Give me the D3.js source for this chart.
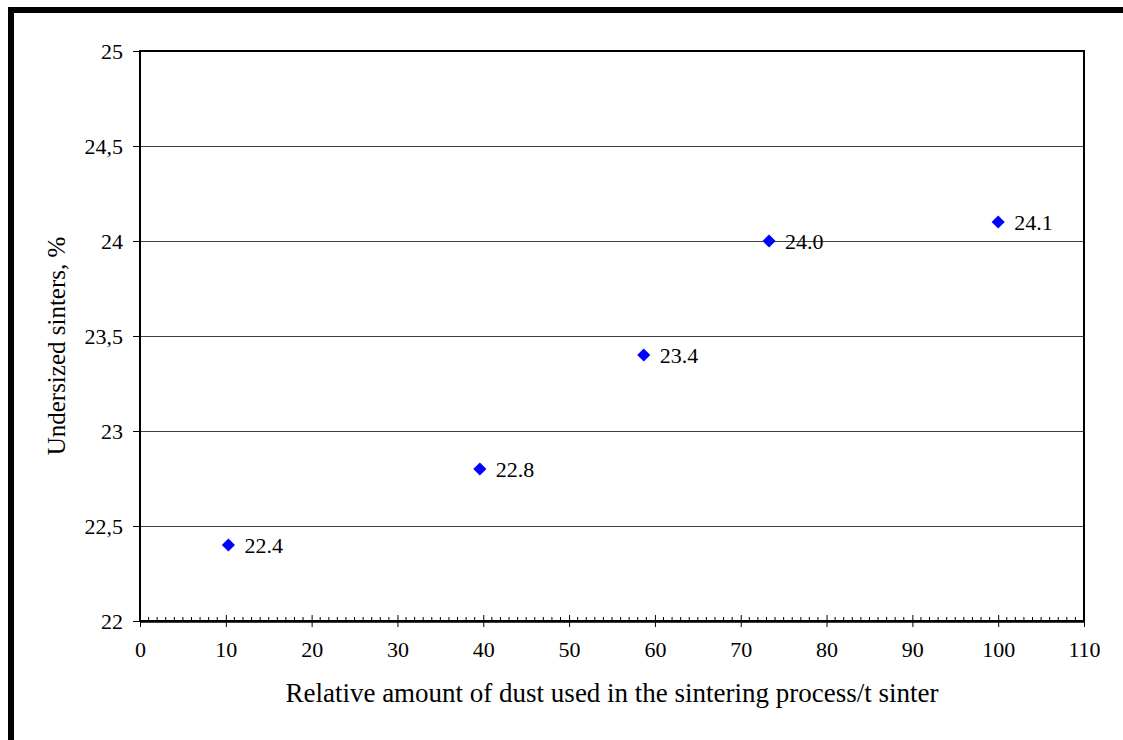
<!DOCTYPE html>
<html>
<head>
<meta charset="utf-8">
<script src="https://cdn.jsdelivr.net/npm/d3@7"></script>
<style>
  html, body { margin: 0; padding: 0; background: #fff; }
  svg { display: block; }
  svg text { font-family: "Liberation Serif", "Times New Roman", serif !important; fill: #000; }
</style>
</head>
<body>
<svg id="chart" width="1123" height="740"></svg>
<script>
// Relative dust amount vs. undersized sinter share
const dustAmount = [10.3, 39.6, 58.7, 73.3, 100];
const undersized = [22.4, 22.8, 23.4, 24.0, 24.1];
const pointLabels = ["22.4", "22.8", "23.4", "24.0", "24.1"];
const xTicks = [0, 10, 20, 30, 40, 50, 60, 70, 80, 90, 100, 110];
const yTicks = [22, 22.5, 23, 23.5, 24, 24.5, 25];
const yTickLabels = ["22", "22,5", "23", "23,5", "24", "24,5", "25"];
const xTitle = "Relative amount of dust used in the sintering process/t sinter";
const yTitle = "Undersized sinters, %";

const serif = '"Liberation Serif", "Times New Roman", serif';
const svg = d3.select("#chart");
const plot = { left: 140, top: 51, right: 1084, bottom: 621 };

const x = d3.scaleLinear().domain([0, 110]).range([plot.left, plot.right]);
const y = d3.scaleLinear().domain([22, 25]).range([plot.bottom, plot.top]);

// outer frame (open at the bottom/right, as the page crops it)
svg.append("path")
  .attr("d", `M11,740 L11,10 L1123,10`)
  .attr("fill", "none").attr("stroke", "#000").attr("stroke-width", 6);

// horizontal gridlines
svg.append("g").selectAll("line")
  .data(yTicks.slice(1, -1))
  .join("line")
  .attr("x1", plot.left).attr("x2", plot.right)
  .attr("y1", d => Math.round(y(d)) + 0.5).attr("y2", d => Math.round(y(d)) + 0.5)
  .attr("stroke", "#404040").attr("stroke-width", 1);

// plot area border
svg.append("rect")
  .attr("x", plot.left).attr("y", plot.top)
  .attr("width", plot.right - plot.left).attr("height", plot.bottom - plot.top)
  .attr("fill", "none").attr("stroke", "#000").attr("stroke-width", 2);

// y axis
const yAxis = d3.axisLeft(y)
  .tickValues(yTicks)
  .tickFormat((d, i) => yTickLabels[i])
  .tickSize(7).tickPadding(10);
const gy = svg.append("g").attr("transform", `translate(${plot.left},0)`).call(yAxis)
  .attr("font-family", serif).attr("font-size", 22);
gy.select(".domain").remove();
gy.selectAll(".tick line").attr("stroke", "#000").attr("stroke-width", 1);

// x axis minor ticks (every unit, pointing inside)
const minor = d3.range(0, 111, 1).filter(v => v % 10 !== 0);
svg.append("g").selectAll("line")
  .data(minor)
  .join("line")
  .attr("x1", d => x(d)).attr("x2", d => x(d))
  .attr("y1", plot.bottom).attr("y2", plot.bottom - 4)
  .attr("stroke", "#000").attr("stroke-width", 1);

// x axis major ticks crossing the axis line
const xAxis = d3.axisBottom(x)
  .tickValues(xTicks)
  .tickFormat(d3.format("d"))
  .tickSizeInner(6).tickSizeOuter(0).tickPadding(14);
const gx = svg.append("g").attr("transform", `translate(0,${plot.bottom})`).call(xAxis)
  .attr("font-family", serif).attr("font-size", 22);
gx.select(".domain").attr("stroke", "#000").attr("stroke-width", 2.5);
gx.selectAll(".tick line").attr("y1", -6).attr("stroke", "#000").attr("stroke-width", 1);

// data points
const diamond = d3.symbol().type(d3.symbolDiamond2).size(110);
const pts = svg.append("g").selectAll("g")
  .data(dustAmount.map((d, i) => ({ x: d, y: undersized[i], label: pointLabels[i] })))
  .join("g")
  .attr("transform", d => `translate(${x(d.x)},${y(d.y)})`);
pts.append("path").attr("d", diamond).attr("fill", "#0000ff");
pts.append("text")
  .attr("x", 16).attr("dy", "0.35em")
  .style("font-size", "22px")
  .text(d => d.label);

// axis titles
svg.append("text")
  .attr("x", (plot.left + plot.right) / 2).attr("y", 702)
  .attr("text-anchor", "middle")
  .style("font-size", "27px")
  .text(xTitle);

svg.append("text")
  .attr("transform", `translate(65,${(plot.top + plot.bottom) / 2 + 10}) rotate(-90)`)
  .attr("text-anchor", "middle")
  .style("font-size", "25px")
  .text(yTitle);
</script>
</body>
</html>
